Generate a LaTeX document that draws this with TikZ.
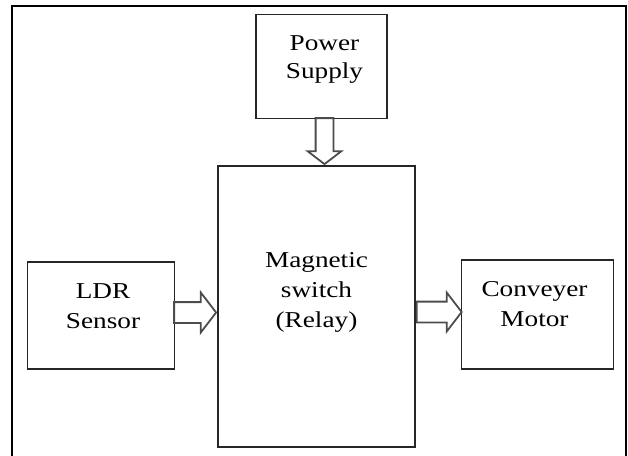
\documentclass[tikz,border=0pt]{standalone}
\usepackage{fontspec}
\setmainfont{Liberation Serif}[FakeStretch=1.2]
\usetikzlibrary{positioning,shapes.arrows}

\begin{document}
\begin{tikzpicture}[
    x=1pt, y=-1pt,
    font=\fontsize{22.7}{30}\selectfont,
    block/.style={draw=black!85, line width=1.5pt, inner sep=0pt},
    txt/.style={align=center, inner sep=0pt},
    hollow/.style={single arrow, draw=black!70, line width=1.8pt, inner xsep=0pt,
                   single arrow tip angle=105, single arrow head indent=0pt},
    frame/.style={draw=black, line width=2pt}
]
\useasboundingbox (0,0) rectangle (628,455);

\node[block, minimum width=197pt, minimum height=281pt,
      label={[txt, yshift=14pt]center:Magnetic\\switch\\(Relay)}] (relay) at (316.5,306.5) {};
\node[block, minimum width=131pt, minimum height=104pt, above=46pt of relay, xshift=5pt,
      label={[txt, yshift=7pt, xshift=3pt, font=\fontsize{22.7}{28}\selectfont]center:Power\\Supply}] (supply) {};
\node[block, minimum width=147pt, minimum height=107pt, left=42pt of relay, yshift=-9pt,
      label={[txt, yshift=9pt, xshift=2pt]center:LDR\\Sensor}] (ldr) {};
\node[block, minimum width=152pt, minimum height=109pt, right=45pt of relay, yshift=-8pt,
      label={[txt, yshift=10pt, xshift=-3pt]center:Conveyer\\Motor}] (motor) {};

% flechas huecas entre bloques
\node[hollow, rotate=-90, inner ysep=8pt, single arrow head extend=8pt,
      minimum height=46pt, anchor=tip] (pwrarrow) at ([xshift=8pt]relay.north) {};
\node[hollow, inner ysep=9.5pt, single arrow head extend=9.5pt,
      minimum height=42pt, anchor=tip] (inarrow) at ([yshift=-6pt]relay.west) {};
\node[hollow, inner ysep=9.5pt, single arrow head extend=9pt,
      minimum height=45pt, anchor=tail] (outarrow) at ([yshift=-5.5pt]relay.east) {};

% marco exterior, cortado por abajo
\draw[frame] (12,460) -- (12,6) -- (626,6) -- (626,460);
\end{tikzpicture}
\end{document}
